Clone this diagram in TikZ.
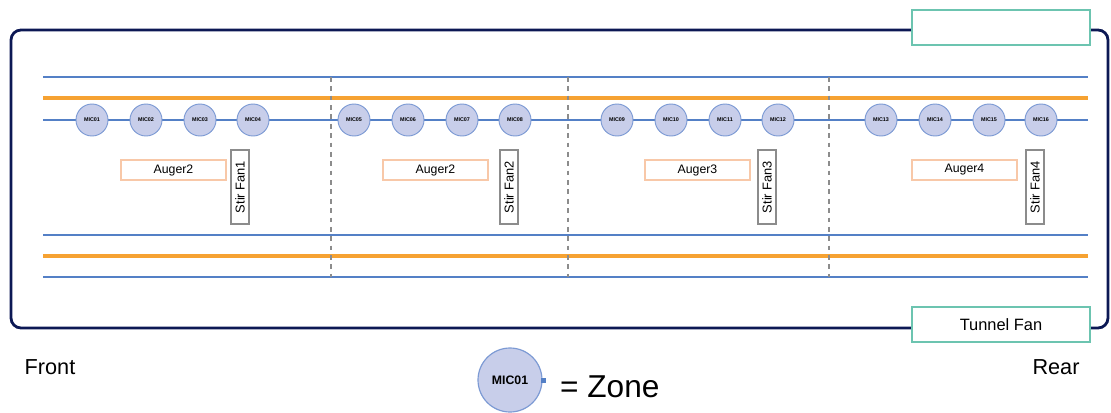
\documentclass[tikz,border=0pt]{standalone}
\usepackage{fontspec}
\setmainfont{Liberation Sans}
\usepackage{tikz}
\definecolor{mynavy}{RGB}{12,24,84}
\definecolor{myblue}{RGB}{84,128,198}
\definecolor{myorange}{RGB}{246,162,50}
\definecolor{myteal}{RGB}{108,196,176}
\definecolor{mymicfill}{RGB}{200,206,234}
\definecolor{mymicline}{RGB}{124,154,212}
\definecolor{myauger}{RGB}{248,200,168}
\definecolor{mygray}{RGB}{140,140,140}

\tikzset{
    bluerail/.style={color=myblue, line width=1.9pt},
    orangerail/.style={color=myorange, line width=2.8pt},
    zoneline/.style={color=mygray, line width=1pt, dash pattern=on 4pt off 4pt},
    mic/.style={circle, draw=mymicline, fill=mymicfill, line width=0.8pt,
        minimum size=0.96cm, inner sep=0pt, font=\fontsize{4.6}{5}\selectfont\bfseries},
    auger/.style={draw=myauger, fill=white, line width=1.4pt,
        minimum width=3.15cm, minimum height=0.6cm, inner sep=0pt, font=\fontsize{10.5}{12}\selectfont},
    stirfan/.style={draw=mygray, fill=white, line width=1.3pt, rotate=90,
        minimum width=2.22cm, minimum height=0.54cm, inner sep=0pt, font=\fontsize{11}{12}\selectfont},
    fanbox/.style={draw=myteal, fill=white, line width=2.2pt,
        minimum width=5.34cm, minimum height=1.05cm, inner sep=0pt, font=\fontsize{14}{16}\selectfont},
}

\begin{document}
\begin{tikzpicture}[x=0.03cm, y=-0.03cm]
    \useasboundingbox (0, 0) rectangle (1111, 412);

    % barn outline
    \draw[color=mynavy, line width=2.4pt, rounded corners=0.3cm] (11, 30) rectangle (1108, 328);

    % rails
    \coordinate (railA west) at (43, 77);   \coordinate (railA east) at (1088, 77);
    \coordinate (railB west) at (43, 98);   \coordinate (railB east) at (1088, 98);
    \coordinate (railC west) at (43, 120);  \coordinate (railC east) at (1088, 120);
    \coordinate (railD west) at (43, 235);  \coordinate (railD east) at (1088, 235);
    \coordinate (railE west) at (43, 256);  \coordinate (railE east) at (1088, 256);
    \coordinate (railF west) at (43, 277);  \coordinate (railF east) at (1088, 277);
    \draw[bluerail] (railA west) -- (railA east);
    \draw[orangerail] (railB west) -- (railB east);
    \draw[bluerail] (railC west) -- (railC east);
    \draw[bluerail] (railD west) -- (railD east);
    \draw[orangerail] (railE west) -- (railE east);
    \draw[bluerail] (railF west) -- (railF east);

    % zone dividers
    \foreach \x/\n in {331/1, 568/2, 829/3} {
        \coordinate (div\n top) at (\x, 77);
        \coordinate (div\n bot) at (\x, 277);
        \draw[zoneline] (div\n top) -- (div\n bot);
    }

    % mics
    \foreach \x/\n in {92/01, 146/02, 200/03, 253/04,
                       354/05, 408/06, 462/07, 515/08,
                       617/09, 671/10, 725/11, 778/12,
                       881/13, 935/14, 989/15, 1041/16} {
        \node[mic] (mic\n) at (\x, 120) {MIC\n};
    }

    % augers and stir fans
    \node[auger] (auger1) at (173.5, 170) {Auger2};
    \node[auger] (auger2) at (435.5, 170) {Auger2};
    \node[auger] (auger3) at (697.5, 170) {Auger3};
    \node[auger] (auger4) at (964.5, 170) {Auger4};
    \node[stirfan] (stir1) at (240, 187) {Stir Fan1};
    \node[stirfan] (stir2) at (509, 187) {Stir Fan2};
    \node[stirfan] (stir3) at (767, 187) {Stir Fan3};
    \node[stirfan] (stir4) at (1035, 187) {Stir Fan4};

    % tunnel fans
    \node[fanbox] (fantop) at (1001, 27.5) {};
    \node[fanbox] (fanbot) at (1001, 324.5) {Tunnel Fan};

    % ends and legend
    \node[font=\fontsize{18.5}{20}\selectfont] (front) at (50, 367) {Front};
    \node[font=\fontsize{18.5}{20}\selectfont] (rear) at (1056, 367) {Rear};
    \node[mic, minimum size=1.92cm, line width=1pt, font=\fontsize{10.5}{12}\selectfont\bfseries]
        (legendmic) at (510, 380) {MIC01};
    \node[fill=myblue, minimum size=0.15cm, inner sep=0pt, anchor=west] (legendtab) at ([xshift=-0.06cm]legendmic.east) {};
    \node[font=\fontsize{27}{30}\selectfont, anchor=west] (zone) at (556, 387) {= Zone};
\end{tikzpicture}
\end{document}
